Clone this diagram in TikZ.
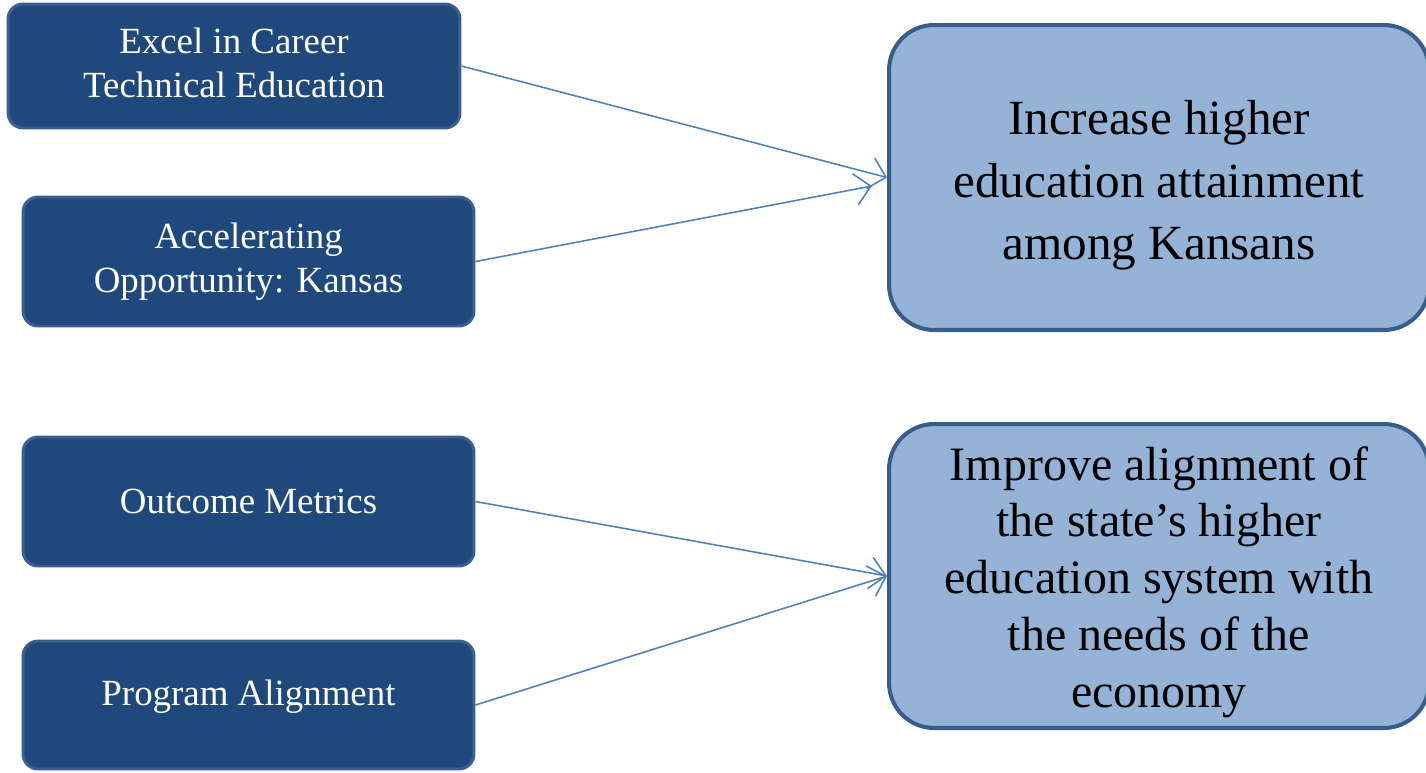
\documentclass[tikz,border=0pt]{standalone}
\usepackage{fontspec}
\setmainfont{Liberation Serif}
\usepackage{xcolor}
\usetikzlibrary{arrows.meta}
\definecolor{darkbox}{HTML}{1F497D}
\definecolor{darkrim}{HTML}{3A5F8E}
\definecolor{lightbox}{HTML}{95B3D7}
\definecolor{lightrim}{HTML}{385D8A}
\definecolor{linkblue}{HTML}{4F81BD}

\begin{document}
\begin{tikzpicture}[x=0.02cm,y=-0.02cm]
		\tikzset{source/.style = {draw=darkrim, fill=darkbox, line width=1.7pt, rounded corners=0.3cm,
			inner sep=0pt, align=center, text=white, minimum width=9.02cm, minimum height=2.58cm,
			font=\fontsize{21}{25}\selectfont}}
		\tikzset{goal/.style = {draw=lightrim, fill=lightbox, line width=2.3pt, rounded corners=0.9cm,
			inner sep=0pt, minimum width=10.8cm, minimum height=6.1cm}}
		\tikzset{goaltext/.style = {inner sep=0pt, align=center, text=black}}
		\tikzset{link/.style = {draw=linkblue, line width=0.9pt, -{Straight Barb[length=9pt,width=18pt,line width=0.9pt]}}}

		\useasboundingbox (0,0) rectangle (1426,772);

		\node[source, minimum width=9.04cm, minimum height=2.48cm, text depth=0.15cm] (excel) at (234,66) {Excel in Career\\Technical Education};
		\node[source] (accel) at (248.5,261.5) {Accelerating\\Opportunity: Kansas};
		\node[source] (metrics) at (248.5,501.5) {Outcome Metrics};
		\node[source, minimum height=2.56cm, text depth=0.5cm] (program) at (248.5,705) {Program Alignment};

		\node[goal] (attain) at (1159,177.5) {};
		\node[goaltext, font=\fontsize{28}{35.7}\selectfont] (attaintext) at ([yshift=-0.16cm]attain.center) {Increase higher\\education attainment\\among Kansans};
		\node[goal, minimum height=6.08cm] (align) at (1159,576) {};
		\node[goaltext, font=\fontsize{27.3}{32.3}\selectfont] (aligntext) at ([yshift=-0.12cm]align.center) {Improve alignment of\\the state's higher\\education system with\\the needs of the\\economy};

		\coordinate (attainin) at (872,186);

		\draw[link] (excel.east) to (attain.west);
		\draw[link] (accel.east) to (attainin);
		\draw[link] (metrics.east) to (align.west);
		\draw[link] (program.east) to (align.west);
	\end{tikzpicture}
\end{document}
